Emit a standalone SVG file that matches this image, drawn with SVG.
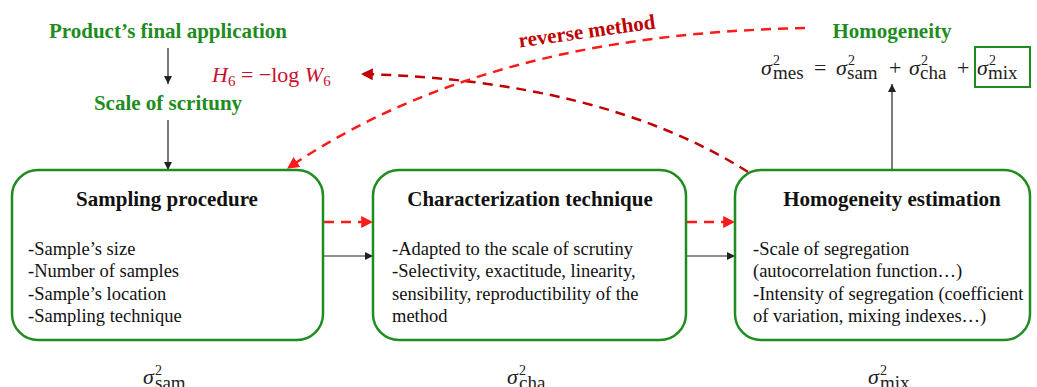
<svg xmlns="http://www.w3.org/2000/svg" width="1037" height="387" viewBox="0 0 1037 387">
<defs>
<style>
.box{fill:#fff;stroke:#1f8c1f;stroke-width:2.5}
.title{font-family:"Liberation Serif",serif;font-weight:bold;font-size:21px;fill:#111;text-anchor:middle}
.body{font-family:"Liberation Serif",serif;font-size:18.5px;fill:#111}
.green{font-family:"Liberation Serif",serif;font-weight:bold;font-size:21px;fill:#1f8c1f;text-anchor:middle}
.math{font-family:"Liberation Serif",serif;font-size:22px;fill:#222}
.it{font-style:italic}
.sup{font-family:"Liberation Serif",serif;font-size:14px;fill:#222}
.sub{font-family:"Liberation Serif",serif;font-size:19px;fill:#222}
.blk{stroke:#222;stroke-width:1.2;fill:none}
.rd{stroke:#ff1a1a;stroke-width:2.5;fill:none;stroke-dasharray:10,7}
.drd{stroke:#c00000;stroke-width:2.5;fill:none;stroke-dasharray:10,7}
</style>
<marker id="ab" viewBox="0 0 10 10" refX="10" refY="5" markerWidth="8" markerHeight="8" markerUnits="userSpaceOnUse" orient="auto"><path d="M0,0L10,5L0,10z" fill="#222"/></marker>
<marker id="ar" viewBox="0 0 10 10" refX="9" refY="5" markerWidth="12" markerHeight="12" markerUnits="userSpaceOnUse" orient="auto"><path d="M0,0L10,5L0,10z" fill="#ff1a1a"/></marker>
<marker id="adr" viewBox="0 0 10 10" refX="9" refY="5" markerWidth="12" markerHeight="12" markerUnits="userSpaceOnUse" orient="auto"><path d="M0,0L10,5L0,10z" fill="#c00000"/></marker>
</defs>
<rect width="1037" height="387" fill="#fff"/>

<g id="connectors">
<line class="blk" x1="168" y1="48" x2="168" y2="84" marker-end="url(#ab)"/>
<line class="blk" x1="168" y1="120" x2="168" y2="170" marker-end="url(#ab)"/>
<line class="blk" x1="323" y1="256" x2="373" y2="256" marker-end="url(#ab)"/>
<line class="blk" x1="686" y1="256" x2="735" y2="256" marker-end="url(#ab)"/>
<line class="blk" x1="892" y1="170" x2="892" y2="84" marker-end="url(#ab)"/>
<line class="rd" x1="324" y1="222" x2="372" y2="222" marker-end="url(#ar)"/>
<line class="rd" x1="687" y1="222" x2="734" y2="222" marker-end="url(#ar)"/>
<path class="drd" d="M748,172 C650,110 520,78 362,74" marker-end="url(#adr)"/>
<path class="rd" d="M805,28 C620,32 440,65 288,168" marker-end="url(#ar)"/>
</g>

<g id="product">
<text class="green" x="168" y="38">Product’s final application</text>
</g>
<g id="scale">
<text class="green" x="168" y="110">Scale of scrituny</text>
</g>
<g id="h6">
<text x="212" y="82" font-family="Liberation Serif,serif" font-size="22" fill="#c8102e"><tspan font-style="italic">H</tspan><tspan font-size="15" dy="4">6</tspan><tspan dy="-4"> = −log </tspan><tspan font-style="italic">W</tspan><tspan font-size="15" dy="4">6</tspan></text>
</g>
<g id="reverse">
<text x="587" y="38" transform="rotate(-8 587 32)" font-family="Liberation Serif,serif" font-weight="bold" font-size="21" fill="#c00000" text-anchor="middle">reverse method</text>
</g>
<g id="homogeneity">
<text class="green" x="892" y="38">Homogeneity</text>
<text class="math it" x="761" y="75">σ</text>
<text class="sup" x="773" y="65">2</text>
<text class="sub" x="773" y="79">mes</text>
<text class="math" x="814" y="75">=</text>
<text class="math it" x="836" y="75">σ</text>
<text class="sup" x="848" y="65">2</text>
<text class="sub" x="847" y="79">sam</text>
<text class="math" x="889" y="75">+</text>
<text class="math it" x="909" y="75">σ</text>
<text class="sup" x="921" y="65">2</text>
<text class="sub" x="920" y="79">cha</text>
<text class="math" x="957" y="75">+</text>
<text class="math it" x="977" y="75">σ</text>
<text class="sup" x="989" y="65">2</text>
<text class="sub" x="988" y="79">mix</text>
<rect x="975" y="47" width="55" height="40" fill="none" stroke="#1f8c1f" stroke-width="2"/>
</g>

<g id="sampling">
<rect class="box" x="12" y="170" width="311" height="170" rx="26"/>
<text class="title" x="167" y="206">Sampling procedure</text>
<text class="body" x="28" y="255">-Sample’s size</text>
<text class="body" x="28" y="277">-Number of samples</text>
<text class="body" x="28" y="300">-Sample’s location</text>
<text class="body" x="28" y="322">-Sampling technique</text>
</g>
<g id="characterization">
<rect class="box" x="373" y="170" width="313" height="170" rx="26"/>
<text class="title" x="530" y="206">Characterization technique</text>
<text class="body" x="392" y="255">-Adapted to the scale of scrutiny</text>
<text class="body" x="392" y="277">-Selectivity, exactitude, linearity,</text>
<text class="body" x="392" y="300">sensibility, reproductibility of the</text>
<text class="body" x="392" y="322">method</text>
</g>
<g id="estimation">
<rect class="box" x="735" y="170" width="295" height="170" rx="26"/>
<text class="title" x="892" y="206">Homogeneity estimation</text>
<text class="body" x="753" y="255">-Scale of segregation</text>
<text class="body" x="753" y="277">(autocorrelation function…)</text>
<text class="body" x="753" y="300">-Intensity of segregation (coefficient</text>
<text class="body" x="753" y="322">of variation, mixing indexes…)</text>
</g>

<g id="sig-sam">
<text class="math it" x="143" y="384">σ</text>
<text class="sup" x="155" y="375">2</text>
<text class="sub" x="155" y="389">sam</text>
</g>
<g id="sig-cha">
<text class="math it" x="507" y="384">σ</text>
<text class="sup" x="519" y="375">2</text>
<text class="sub" x="519" y="389">cha</text>
</g>
<g id="sig-mix">
<text class="math it" x="868" y="384">σ</text>
<text class="sup" x="880" y="375">2</text>
<text class="sub" x="880" y="389">mix</text>
</g>
</svg>
